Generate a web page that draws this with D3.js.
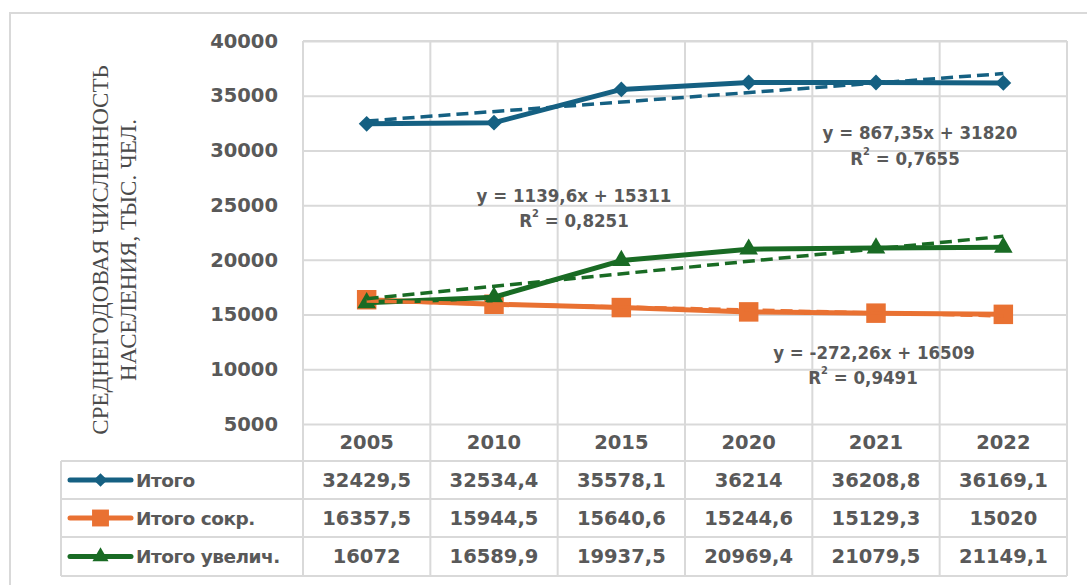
<!DOCTYPE html>
<html>
<head>
<meta charset="utf-8">
<script src="https://cdn.jsdelivr.net/npm/d3@7"></script>
<style>
html,body{margin:0;padding:0;background:#fff;}
svg{display:block;}
</style>
</head>
<body>
<svg id="chart" width="1087" height="585"></svg>
<script>
// ---------- data ----------
const years = ["2005", "2010", "2015", "2020", "2021", "2022"];
const seriesNames = ["Итого", "Итого сокр.", "Итого увелич."];
const totalValues = [32429.5, 32534.4, 35578.1, 36214, 36208.8, 36169.1];
const decreaseValues = [16357.5, 15944.5, 15640.6, 15244.6, 15129.3, 15020];
const increaseValues = [16072, 16589.9, 19937.5, 20969.4, 21079.5, 21149.1];
const yTicks = [5000, 10000, 15000, 20000, 25000, 30000, 35000, 40000];
const trendEquations = ["y = 867,35x + 31820", "y = -272,26x + 16509", "y = 1139,6x + 15311"];
const trendR2 = ["0,7655", "0,9491", "0,8251"];
const yTitleLines = ["СРЕДНЕГОДОВАЯ ЧИСЛЕННОСТЬ", "НАСЕЛЕНИЯ, ТЫС. ЧЕЛ."];

// ---------- layout ----------
const colors = ["#156082", "#E97132", "#196B24"];
const markers = [d3.symbolSquare, d3.symbolSquare, d3.symbolTriangle];
const markerRot = [45, 0, 0];
const markerSizes = [125, 380, 150];
const seriesValues = [totalValues, decreaseValues, increaseValues];
const plot = {left: 303, right: 1067, top: 41, bottom: 424};
const tableRows = [424, 461, 499, 537, 576];
const legendLeft = 61;
const gridColor = "#d9d9d9";
const textColor = "#595959";
const numFont = "'DejaVu Sans', sans-serif";

const svg = d3.select("#chart");

// outer border
svg.append("rect").attr("x", 10).attr("y", 13).attr("width", 1100).attr("height", 620)
  .attr("fill", "none").attr("stroke", gridColor).attr("stroke-width", 2);

const x = d3.scaleBand().domain(years).range([plot.left, plot.right]);
const y = d3.scaleLinear().domain([5000, 40000]).range([plot.bottom, plot.top]);
const cx = d => x(d) + x.bandwidth() / 2;

// horizontal gridlines + y labels
const yAxis = d3.axisLeft(y).tickValues(yTicks).tickFormat(d3.format("d"))
  .tickSizeInner(-(plot.right - plot.left)).tickSizeOuter(0).tickPadding(25);
const gy = svg.append("g").attr("transform", `translate(${plot.left},0)`).call(yAxis);
gy.select(".domain").remove();
gy.selectAll(".tick line").attr("stroke", gridColor).attr("stroke-width", 2);
gy.selectAll(".tick text").attr("fill", textColor).attr("font-family", numFont)
  .attr("font-weight", "bold").attr("font-size", 19.5);

// vertical gridlines (through plot and table)
const bounds = years.map(d => x(d)).concat([plot.right]);
svg.append("g").selectAll("line").data(bounds).join("line")
  .attr("x1", d => d).attr("x2", d => d)
  .attr("y1", plot.top).attr("y2", tableRows[tableRows.length - 1])
  .attr("stroke", gridColor).attr("stroke-width", 2);
// top border of plot
svg.append("line").attr("x1", plot.left).attr("x2", plot.right).attr("y1", plot.top).attr("y2", plot.top)
  .attr("stroke", gridColor).attr("stroke-width", 2);

// table horizontal lines
svg.append("g").selectAll("line").data(tableRows.slice(1)).join("line")
  .attr("x1", legendLeft).attr("x2", plot.right).attr("y1", d => d).attr("y2", d => d)
  .attr("stroke", gridColor).attr("stroke-width", 2);
svg.append("line").attr("x1", legendLeft).attr("x2", legendLeft)
  .attr("y1", tableRows[1]).attr("y2", tableRows[4]).attr("stroke", gridColor).attr("stroke-width", 2);

// y axis title
const yTitle = svg.append("g");
yTitleLines.forEach((t, i) => {
  yTitle.append("text")
    .attr("transform", `translate(${100 + i * 28},250) rotate(-90)`)
    .attr("text-anchor", "middle").attr("dominant-baseline", "central")
    .attr("font-family", "'Liberation Serif', 'Times New Roman', serif")
    .attr("font-size", 23).attr("fill", "#4a4a4a").text(t);
});

// series lines + markers
const line = d3.line().x((d, i) => cx(years[i])).y(d => y(d));
seriesValues.forEach((vals, s) => {
  svg.append("path").datum(vals).attr("d", line).attr("fill", "none")
    .attr("stroke", colors[s]).attr("stroke-width", 5).attr("stroke-linejoin", "round");
  svg.append("g").selectAll("path").data(vals).join("path")
    .attr("d", d3.symbol().type(markers[s]).size(markerSizes[s]))
    .attr("transform", (d, i) => `translate(${cx(years[i])},${y(d)}) rotate(${markerRot[s]})`)
    .attr("fill", colors[s]);
});

// linear trendlines (least squares over x = 1..n)
function regress(vals) {
  const xs = vals.map((d, i) => i + 1);
  const mx = d3.mean(xs), my = d3.mean(vals);
  const b = d3.sum(xs, (xx, i) => (xx - mx) * (vals[i] - my)) / d3.sum(xs, xx => (xx - mx) ** 2);
  return {b, a: my - b * mx};
}
seriesValues.forEach((vals, s) => {
  const r = regress(vals);
  const pts = [1, vals.length].map(k => [cx(years[k - 1]), y(r.a + r.b * k)]);
  svg.append("line").attr("x1", pts[0][0]).attr("y1", pts[0][1]).attr("x2", pts[1][0]).attr("y2", pts[1][1])
    .attr("stroke", colors[s]).attr("stroke-width", 3.5).attr("stroke-dasharray", "12,6");
});

// trendline equation labels
const eqPos = [[920, 132, 905, 158], [874, 352, 863, 377], [574, 195, 574, 220]];
eqPos.forEach((p, s) => {
  const g = svg.append("g").attr("font-family", "'DejaVu Sans Condensed', 'DejaVu Sans', sans-serif")
    .attr("font-stretch", "condensed").attr("font-weight", "bold").attr("font-size", 18.5)
    .attr("fill", textColor).attr("text-anchor", "middle");
  g.append("text").attr("x", p[0]).attr("y", p[1]).attr("dominant-baseline", "central").text(trendEquations[s]);
  const t2 = g.append("text").attr("x", p[2]).attr("y", p[3]).attr("dominant-baseline", "central");
  t2.append("tspan").text("R");
  t2.append("tspan").attr("font-size", 11).attr("dy", -7).text("2");
  t2.append("tspan").attr("dy", 7).text(" = " + trendR2[s]);
});

// table header (years)
svg.append("g").selectAll("text").data(years).join("text")
  .attr("x", d => cx(d)).attr("y", (tableRows[0] + tableRows[1]) / 2)
  .attr("text-anchor", "middle").attr("dominant-baseline", "central")
  .attr("font-family", numFont).attr("font-weight", "bold").attr("font-size", 19.5)
  .attr("fill", textColor).text(d => d);

// table rows
const fmt = v => String(v).replace(".", ",");
seriesValues.forEach((vals, s) => {
  const yc = (tableRows[s + 1] + tableRows[s + 2]) / 2;
  svg.append("g").selectAll("text").data(vals).join("text")
    .attr("x", (d, i) => cx(years[i])).attr("y", yc)
    .attr("text-anchor", "middle").attr("dominant-baseline", "central")
    .attr("font-family", numFont).attr("font-weight", "bold").attr("font-size", 19.5)
    .attr("fill", textColor).text(d => fmt(d));
  // legend key
  svg.append("line").attr("x1", 70).attr("x2", 131).attr("y1", yc).attr("y2", yc)
    .attr("stroke", colors[s]).attr("stroke-width", 5).attr("stroke-linecap", "round");
  svg.append("path").attr("d", d3.symbol().type(markers[s]).size(markerSizes[s] * 0.75))
    .attr("transform", `translate(100.5,${yc}) rotate(${markerRot[s]})`).attr("fill", colors[s]);
  svg.append("text").attr("x", 136).attr("y", yc).attr("dominant-baseline", "central")
    .attr("font-family", numFont).attr("font-weight", "bold").attr("font-size", 18.5)
    .attr("letter-spacing", -0.5)
    .attr("fill", textColor).text(seriesNames[s]);
});
</script>
</body>
</html>
